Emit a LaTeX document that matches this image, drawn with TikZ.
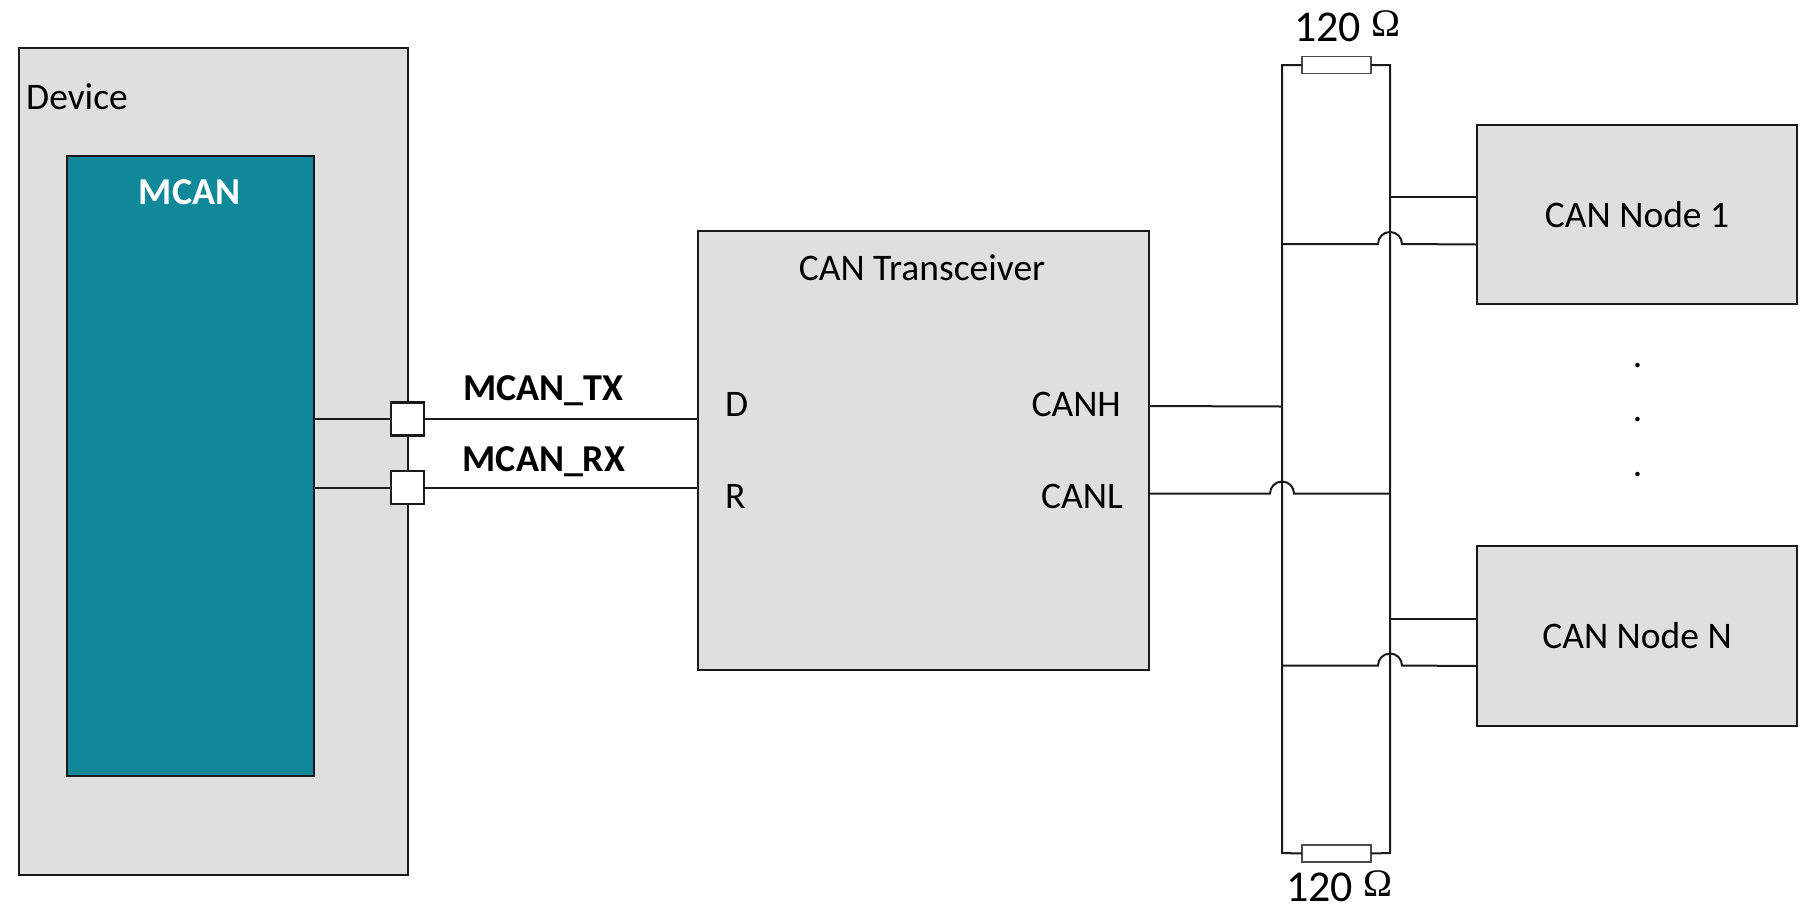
\documentclass[tikz,border=0pt]{standalone}
\usepackage{fontspec}
\setmainfont{Carlito}
\newfontfamily\symfont{Liberation Serif}
\definecolor{boxgray}{HTML}{DFDFDF}
\definecolor{teal}{HTML}{118899}
\tikzset{
  box/.style={draw=black!90,line width=2pt,fill=boxgray,inner sep=0pt,outer sep=0pt,anchor=north west},
  wire/.style={draw=black!90,line width=2pt},
  pin/.style={draw=black!90,line width=2.4pt,fill=white,minimum size=33pt,inner sep=0pt,outer sep=0pt},
  res/.style={draw=black!70,line width=1.6pt,fill=white,minimum width=69pt,minimum height=17pt,inner sep=0pt,outer sep=0pt},
  lab/.style={font=\fontsize{37.5}{42}\selectfont,text=black,inner sep=0pt},
  sig/.style={font=\fontsize{38}{42}\selectfont\bfseries,text=black,inner sep=0pt},
  ohm/.style={font=\fontsize{44}{46}\selectfont,text=black,inner sep=0pt,anchor=base west},
  dot/.style={font=\fontsize{37.5}{42}\selectfont,text=black,inner sep=0pt}
}
\newcommand{\ohmsym}{\raisebox{5pt}{\symfont\fontsize{39}{42}\selectfont Ω}}
\begin{document}
\begin{tikzpicture}[x=1pt,y=-1pt]
\useasboundingbox (0,0) rectangle (1801,906);
% boxes
\node[box,minimum width=389.5pt,minimum height=827pt] (device) at (18.5,48) {};
\node[box,fill=teal,minimum width=247pt,minimum height=620pt] (mcan) at (67,156) {};
\node[box,minimum width=451pt,minimum height=439pt] (xcvr) at (698,231) {};
\node[box,minimum width=320pt,minimum height=179pt] (node1) at (1476.5,125) {};
\node[box,minimum width=320pt,minimum height=180pt] (nodeN) at (1476.5,546) {};
% pins
\node[pin] (pintx) at (407.5,419) {};
\node[pin] (pinrx) at (407.5,487.5) {};
% bus corners
\coordinate (tl) at (1282,65);
\coordinate (tr) at (1390,65);
\coordinate (bl) at (1282,853);
\coordinate (br) at (1390,853);
% wires
\draw[wire] (mcan.east|-pintx) -- (pintx);
\draw[wire] (pintx) -- (xcvr.west|-pintx);
\draw[wire] (mcan.east|-pinrx) -- (pinrx);
\draw[wire] (pinrx) -- (xcvr.west|-pinrx);
\node[res] (rtop) at (1336.5,65) {};
\node[res] (rbot) at (1336.5,853.5) {};
\draw[wire] (rtop.west) -- (tl) -- (bl) -- (rbot.west);
\draw[wire] (rtop.east) -- (tr) -- (br) -- (rbot.east);
% transceiver to bus
\coordinate (canhbus) at (1282,406.5);
\coordinate (canlbus) at (1390,493.5);
\draw[wire] (1149,406) -- (canhbus);
\draw[wire] (xcvr.east|-canlbus) -- (1270,493.5) arc[start angle=180,end angle=360,radius=12] -- (canlbus);
% nodes to bus
\draw[wire] (1390,197) -- (node1.west|-0,197);
\draw[wire] (1282,244) -- (1378,244) arc[start angle=180,end angle=360,radius=12] -- (node1.west|-0,244.5);
\draw[wire] (1390,619) -- (nodeN.west|-0,619);
\draw[wire] (1282,665.5) -- (1378,665.5) arc[start angle=180,end angle=360,radius=12] -- (nodeN.west|-0,666);
% labels
\node[lab,anchor=base west] (tdev) at (26,109) {Device};
\node[sig,text=white,anchor=base] (tmcan) at (189.5,204) {MCAN};
\node[lab,anchor=base] (ttr) at (922,280) {CAN Transceiver};
\node[lab,anchor=base west] (td) at (725,416) {D};
\node[lab,anchor=base west] (tr2) at (725,508) {R};
\node[lab,anchor=base east] (tcanh) at (1121,416) {CANH};
\node[lab,anchor=base east] (tcanl) at (1123,508) {CANL};
\node[sig,anchor=base] (ttx) at (543.5,400) {MCAN\_TX};
\node[sig,anchor=base] (trx) at (544,471) {MCAN\_RX};
\node[lab,anchor=base] (tn1) at (1637,227) {CAN Node 1};
\node[lab,anchor=base] (tnN) at (1637,648) {CAN Node N};
\node[ohm] (t120a) at (1294,41) {120 \ohmsym};
\node[ohm] (t120b) at (1286,901) {120 \ohmsym};
\node[dot,anchor=base] (d1) at (1637.5,367) {.};
\node[dot,anchor=base] (d2) at (1637.5,421) {.};
\node[dot,anchor=base] (d3) at (1637.5,476) {.};
\end{tikzpicture}
\end{document}
